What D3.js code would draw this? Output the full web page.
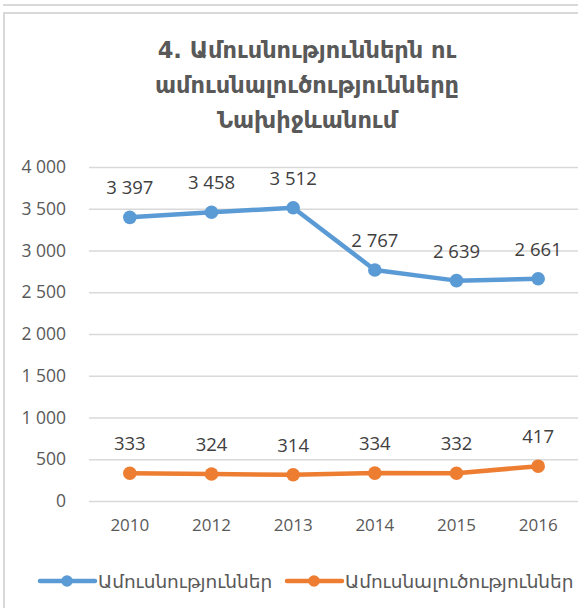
<!DOCTYPE html>
<html>
<head>
<meta charset="utf-8">
<script src="https://cdn.jsdelivr.net/npm/d3@7"></script>
<style>
  body { margin: 0; background: #fff; }
  text { font-family: "Open Sans", "DejaVu Sans", sans-serif; }
  .arm { font-family: "DejaVu Sans", sans-serif; }
</style>
</head>
<body>
<div class="chart"></div>
<script>
// data
const years = ["2010", "2012", "2013", "2014", "2015", "2016"];
const marriages = [3397, 3458, 3512, 2767, 2639, 2661];
const divorces = [333, 324, 314, 334, 332, 417];
const yTicks = [0, 500, 1000, 1500, 2000, 2500, 3000, 3500, 4000];
const seriesNames = ["Ամուսնություններ", "Ամուսնալուծություններ"];
const titleLines = ["4. Ամուսնություններն ու", "ամուսնալուծությունները", "Նախիջևանում"];

const colors = ["#5b9bd5", "#ed7d31"];
const series = [marriages, divorces];

let outWidth = 578, outHeight = 608;
let margin = {top: 167, right: 0, left: 89, bottom: 107};
let width = outWidth - margin.left - margin.right + 1,
    height = outHeight - margin.top - margin.bottom - 0;

const fmt = d3.formatLocale({decimal: ",", thousands: " ", grouping: [3]}).format(",d");

const svg = d3.select(".chart").append("svg")
    .attr("width", outWidth)
    .attr("height", outHeight);

// outer frame
svg.append("line")
    .attr("x1", 3).attr("x2", outWidth).attr("y1", 5).attr("y2", 5)
    .attr("stroke", "#d9d9d9").attr("stroke-width", 2);
svg.append("path")
    .attr("d", `M4,${outHeight + 2}V13H${outWidth + 2}`)
    .attr("fill", "none").attr("stroke", "#d9d9d9").attr("stroke-width", 2);

// title
svg.append("g").selectAll("text")
    .data(titleLines)
    .enter().append("text")
    .attr("class", "arm")
    .attr("x", 307)
    .attr("y", (d, i) => 58 + i * 35)
    .attr("text-anchor", "middle")
    .attr("font-size", 22.5)
    .attr("font-weight", "bold")
    .attr("fill", "#595959")
    .text(d => d);

const g = svg.append("g")
    .attr("transform", `translate(${margin.left}, ${margin.top})`);

let xScale = d3.scaleBand()
    .domain(years)
    .range([0, width]);
let yScale = d3.scaleLinear()
    .domain([0, 4000])
    .range([height, 0]);

// gridlines
g.append("g")
    .attr("class", "grid")
    .call(d3.axisLeft(yScale).tickValues(yTicks).tickSize(-width).tickFormat(""))
    .call(a => a.select(".domain").remove())
    .call(a => a.selectAll("line").attr("stroke", "#d9d9d9").attr("stroke-width", 1.3));

// y axis labels
g.append("g")
    .attr("class", "axis y-axis")
    .attr("transform", "translate(-20,0)")
    .call(d3.axisLeft(yScale).tickValues(yTicks).tickSize(0).tickFormat(fmt))
    .call(a => a.select(".domain").remove())
    .call(a => a.selectAll("text")
        .attr("font-size", 17.5)
        .attr("fill", "#595959")
        .attr("font-family", "Open Sans, sans-serif"));

// x axis labels
g.append("g")
    .attr("class", "axis x-axis")
    .attr("transform", `translate(0, ${height + 15})`)
    .call(d3.axisBottom(xScale).tickSize(0))
    .call(a => a.select(".domain").remove())
    .call(a => a.selectAll("text")
        .attr("font-size", 17)
        .attr("fill", "#595959")
        .attr("font-family", "Open Sans, sans-serif"));

const cx = d => xScale(d) + xScale.bandwidth() / 2;

const line = d3.line()
    .x((d, i) => cx(years[i]))
    .y(d => yScale(d));

series.forEach((vals, s) => {
    g.append("path")
        .datum(vals)
        .attr("d", line)
        .attr("fill", "none")
        .attr("stroke", colors[s])
        .attr("stroke-width", 4.5)
        .attr("stroke-linejoin", "round")
        .attr("stroke-linecap", "round");

    g.selectAll(".pt" + s)
        .data(vals)
        .enter().append("circle")
        .attr("class", "pt" + s)
        .attr("cx", (d, i) => cx(years[i]))
        .attr("cy", d => yScale(d))
        .attr("r", 6.8)
        .attr("fill", colors[s]);

    g.selectAll(".lbl" + s)
        .data(vals)
        .enter().append("text")
        .attr("class", "lbl" + s)
        .attr("x", (d, i) => cx(years[i]))
        .attr("y", d => yScale(d) - 23)
        .attr("text-anchor", "middle")
        .attr("font-size", 18.5)
        .attr("fill", "#404040")
        .attr("font-family", "Open Sans, sans-serif")
        .text(d => fmt(d));
});

// legend
const legendX = [40, 287];
const legend = svg.append("g")
    .attr("transform", "translate(0, 581)");
seriesNames.forEach((name, s) => {
    const lg = legend.append("g").attr("transform", `translate(${legendX[s]}, 0)`);
    lg.append("line")
        .attr("x1", 0).attr("x2", 55)
        .attr("stroke", colors[s]).attr("stroke-width", 4.5).attr("stroke-linecap", "round");
    lg.append("circle")
        .attr("cx", 27).attr("r", 5.8).attr("fill", colors[s]);
    lg.append("text")
        .attr("class", "arm")
        .attr("x", 58)
        .attr("y", 7)
        .attr("font-size", 18.5)
        .attr("fill", "#595959")
        .text(name);
});
</script>
</body>
</html>
